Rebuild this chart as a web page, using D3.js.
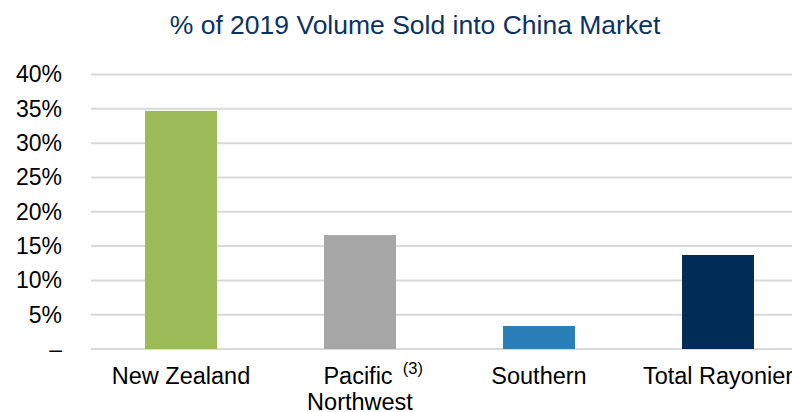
<!DOCTYPE html>
<html>
<head>
<meta charset="utf-8">
<script src="https://cdn.jsdelivr.net/npm/d3@7"></script>
<style>
  html, body { margin: 0; padding: 0; background: #fff; }
  svg { display: block; font-family: Arial, "Liberation Sans", sans-serif; }
</style>
</head>
<body>
<svg id="chart" width="792" height="412"></svg>
<script>
const categories = ["New Zealand", "Pacific Northwest", "Southern", "Total Rayonier"];
const values = [0.347, 0.166, 0.0335, 0.137];
const colors = ["#9BBB59", "#A6A6A6", "#2A7FB8", "#002D57"];
const tickValues = [0, 0.05, 0.10, 0.15, 0.20, 0.25, 0.30, 0.35, 0.40];
const tickLabels = ["–", "5%", "10%", "15%", "20%", "25%", "30%", "35%", "40%"];
const labelLines = [["New Zealand"], ["Pacific", "Northwest"], ["Southern"], ["Total Rayonier"]];
const footnotes = ["", "(3)", "", ""];
const title = "% of 2019 Volume Sold into China Market";

const svg = d3.select("#chart");
const W = 792, H = 412;

const x = d3.scaleBand().domain(categories).range([91.5, 807.5]).paddingInner(0.598).paddingOuter(0.299);
const y = d3.scaleLinear().domain([0, 0.4]).range([349, 74.5]);

// title
svg.append("text")
  .attr("x", 415).attr("y", 34)
  .attr("text-anchor", "middle")
  .attr("fill", "#0B3263")
  .style("font-size", "26.5px")
  .text(title);

// gridlines
svg.append("g").selectAll("line").data(tickValues).join("line")
  .attr("x1", 91).attr("x2", W)
  .attr("y1", d => y(d)).attr("y2", d => y(d))
  .attr("stroke", "#D9D9D9").attr("stroke-width", 2);

// y axis labels
const yAxis = d3.axisLeft(y).tickValues(tickValues).tickFormat((d, i) => tickLabels[i]).tickSize(0).tickPadding(0);
const gy = svg.append("g").attr("transform", "translate(62,0)").call(yAxis);
gy.select(".domain").remove();
gy.selectAll("text").attr("fill", "#000").style("font-size", "23px").attr("font-family", "Arial, 'Liberation Sans', sans-serif");

// bars
svg.append("g").selectAll("rect").data(categories).join("rect")
  .attr("x", d => x(d))
  .attr("width", x.bandwidth())
  .attr("y", (d, i) => y(values[i]))
  .attr("height", (d, i) => y(0) - y(values[i]))
  .attr("fill", (d, i) => colors[i]);

// x labels
const lab = svg.append("g");
categories.forEach((c, i) => {
  const cx = x(c) + x.bandwidth() / 2;
  const lines = labelLines[i];
  if (footnotes[i]) {
    const t = lab.append("text")
      .attr("x", cx - 2).attr("y", 384)
      .attr("text-anchor", "middle")
      .style("font-size", "23.5px").attr("fill", "#000")
      .text(lines[0]);
    const bb = t.node().getBBox();
    lab.append("text")
      .attr("x", bb.x + bb.width + 10).attr("y", 374)
      .style("font-size", "16.5px").attr("fill", "#000")
      .text(footnotes[i]);
    lab.append("text")
      .attr("x", cx).attr("y", 410)
      .attr("text-anchor", "middle")
      .style("font-size", "23.5px").attr("fill", "#000")
      .text(lines[1]);
  } else {
    lab.append("text")
      .attr("x", cx).attr("y", 384)
      .attr("text-anchor", "middle")
      .style("font-size", "23.5px").attr("fill", "#000")
      .text(lines[0]);
  }
});
</script>
</body>
</html>
